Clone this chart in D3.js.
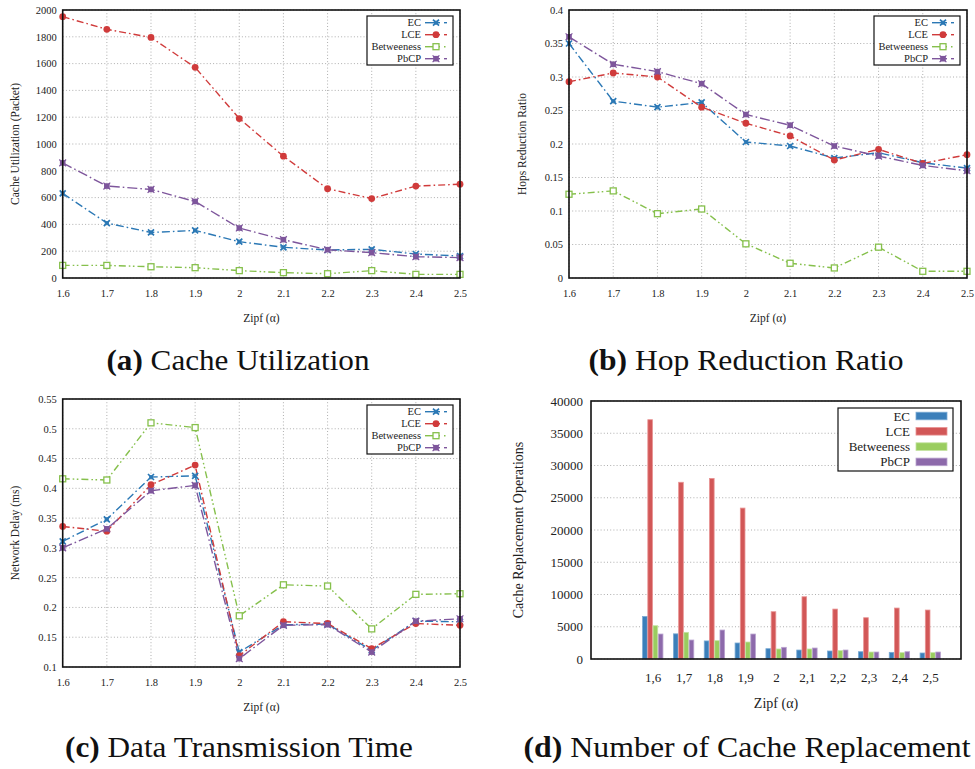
<!DOCTYPE html>
<html>
<head>
<meta charset="utf-8">
<script src="https://cdn.jsdelivr.net/npm/d3@7"></script>
<style>
  html, body { margin: 0; padding: 0; background: #fff; }
  svg { display: block; font-family: "Liberation Serif", "Times New Roman", serif; }
  svg text { font-family: "Liberation Serif", "Times New Roman", serif; }
</style>
</head>
<body>
<svg id="chart" width="975" height="769"></svg>
<script>
// ---------------- DATA ----------------
const zipf = [1.6, 1.7, 1.8, 1.9, 2.0, 2.1, 2.2, 2.3, 2.4, 2.5];
const zipfTickLabels = ["1.6", "1.7", "1.8", "1.9", "2", "2.1", "2.2", "2.3", "2.4", "2.5"];
const zipfBarLabels = ["1,6", "1,7", "1,8", "1,9", "2", "2,1", "2,2", "2,3", "2,4", "2,5"];
const seriesNames = ["EC", "LCE", "Betweeness", "PbCP"];

// (a) Cache Utilization (Packet)
const cacheEC   = [631, 410, 340, 355, 271, 229, 209, 214, 179, 164];
const cacheLCE  = [1950, 1856, 1795, 1572, 1190, 909, 666, 593, 686, 700];
const cacheBetw = [94, 94, 84, 77, 55, 40, 32, 55, 27, 27];
const cachePbCP = [859, 686, 661, 571, 373, 286, 211, 189, 159, 152];
const cacheTicks = [0, 200, 400, 600, 800, 1000, 1200, 1400, 1600, 1800, 2000];

// (b) Hops Reduction Ratio
const hopsEC   = [0.350, 0.264, 0.255, 0.262, 0.203, 0.197, 0.179, 0.187, 0.172, 0.164];
const hopsLCE  = [0.293, 0.306, 0.300, 0.255, 0.231, 0.212, 0.176, 0.192, 0.171, 0.184];
const hopsBetw = [0.125, 0.130, 0.096, 0.103, 0.051, 0.022, 0.015, 0.046, 0.010, 0.010];
const hopsPbCP = [0.360, 0.319, 0.308, 0.290, 0.244, 0.228, 0.197, 0.182, 0.168, 0.160];
const hopsTicks = [0, 0.05, 0.1, 0.15, 0.2, 0.25, 0.3, 0.35, 0.4];
const hopsTickLabels = ["0", "0.05", "0.1", "0.15", "0.2", "0.25", "0.3", "0.35", "0.4"];

// (c) Network Delay (ms)
const delayEC   = [0.311, 0.348, 0.419, 0.421, 0.125, 0.171, 0.172, 0.128, 0.177, 0.176];
const delayLCE  = [0.336, 0.328, 0.406, 0.439, 0.119, 0.176, 0.173, 0.131, 0.173, 0.170];
const delayBetw = [0.416, 0.414, 0.510, 0.502, 0.186, 0.238, 0.236, 0.164, 0.222, 0.223];
const delayPbCP = [0.300, 0.332, 0.396, 0.405, 0.114, 0.170, 0.171, 0.125, 0.177, 0.181];
const delayTicks = [0.1, 0.15, 0.2, 0.25, 0.3, 0.35, 0.4, 0.45, 0.5, 0.55];
const delayTickLabels = ["0.1", "0.15", "0.2", "0.25", "0.3", "0.35", "0.4", "0.45", "0.5", "0.55"];

// (d) Cache Replacement Operations
const replEC   = [6600, 3900, 2800, 2480, 1600, 1390, 1240, 1130, 1030, 930];
const replLCE  = [37100, 27400, 28000, 23400, 7330, 9650, 7740, 6400, 7900, 7590];
const replBetw = [5160, 4130, 2840, 2630, 1550, 1550, 1290, 1080, 980, 980];
const replPbCP = [3870, 2940, 4490, 3870, 1810, 1700, 1390, 1080, 1130, 1080];
const replTicks = [0, 5000, 10000, 15000, 20000, 25000, 30000, 35000, 40000];
const replTickLabels = ["0", "5000", "10000", "15000", "20000", "25000", "30000", "35000", "40000"];

const captions = ["Cache Utilization", "Hop Reduction Ratio", "Data Transmission Time", "Number of Cache Replacement"];
const captionTags = ["(a)", "(b)", "(c)", "(d)"];

// ---------------- STYLE ----------------
const FONT = "Liberation Serif";
const lineColors = ["#2b78b5", "#d03b3b", "#86c04c", "#7e569c"];
const barFills   = ["#3b7fba", "#d25757", "#9acd5f", "#8d6aab"];
const barStrokes = ["#7aaad4", "#e89393", "#c3e3a1", "#b9a3cf"];
const dashes = ["8,3,1.6,3", "7,3,1.6,3", "7,3,1.6,2.5,1.6,3", "10,3,1.6,3"];
const markerTypes = ["x", "circle", "opensquare", "square"];

const svg = d3.select("#chart");

function drawMarker(g, type, x, y, color) {
  if (type === "x") {
    g.append("path").attr("d", `M${x-3},${y-3}L${x+3},${y+3}M${x-3},${y+3}L${x+3},${y-3}`)
      .attr("stroke", color).attr("stroke-width", 1.7).attr("fill", "none");
    g.append("rect").attr("x", x-1.6).attr("y", y-1.6).attr("width", 3.2).attr("height", 3.2)
      .attr("fill", "none").attr("stroke", color).attr("stroke-width", 0.8);
  } else if (type === "circle") {
    g.append("circle").attr("cx", x).attr("cy", y).attr("r", 3.4).attr("fill", color);
  } else if (type === "opensquare") {
    g.append("rect").attr("x", x-3).attr("y", y-3).attr("width", 6).attr("height", 6)
      .attr("fill", "#fff").attr("stroke", color).attr("stroke-width", 1.3);
  } else {
    g.append("rect").attr("x", x-2.8).attr("y", y-2.8).attr("width", 5.6).attr("height", 5.6)
      .attr("fill", color);
    g.append("path").attr("d", `M${x-3.4},${y-3.4}L${x+3.4},${y+3.4}M${x-3.4},${y+3.4}L${x+3.4},${y-3.4}`)
      .attr("stroke", color).attr("stroke-width", 1.2);
  }
}

function drawGrid(g, x, y, xTicks, yTicks, box) {
  const grid = g.append("g").attr("stroke", "#9a9a9a").attr("stroke-width", 0.8)
    .attr("stroke-dasharray", "1,2.2");
  if (xTicks) {
    xTicks.forEach(v => grid.append("line").attr("x1", x(v)).attr("x2", x(v))
      .attr("y1", box.top).attr("y2", box.bottom));
  }
  yTicks.forEach(v => grid.append("line").attr("x1", box.left).attr("x2", box.right)
    .attr("y1", y(v)).attr("y2", y(v)));
}

function drawFrame(g, box) {
  g.append("rect").attr("x", box.left).attr("y", box.top)
    .attr("width", box.right - box.left).attr("height", box.bottom - box.top)
    .attr("fill", "none").attr("stroke", "#111").attr("stroke-width", 1.6);
}

function styleAxis(sel, size) {
  sel.attr("font-family", FONT).attr("font-size", size);
  sel.select(".domain").remove();
  sel.selectAll("text").attr("font-size", size).attr("fill", "#222").attr("font-family", FONT);
}

function lineChart(cfg) {
  const box = cfg.box;
  const g = svg.append("g");
  const x = d3.scaleLinear().domain([zipf[0], zipf[zipf.length - 1]]).range([box.left, box.right]);
  const y = d3.scaleLinear().domain(cfg.yDomain).range([box.bottom, box.top]);

  drawGrid(g, x, y, zipf, cfg.yTicks, box);

  const yAxis = d3.axisLeft(y).tickValues(cfg.yTicks).tickSize(0).tickPadding(6)
    .tickFormat((d, i) => cfg.yTickLabels[i]);
  styleAxis(g.append("g").attr("transform", `translate(${box.left},0)`).call(yAxis), cfg.tickFont);

  const xAxis = d3.axisBottom(x).tickValues(zipf).tickSize(0).tickPadding(12)
    .tickFormat((d, i) => zipfTickLabels[i]);
  styleAxis(g.append("g").attr("transform", `translate(0,${box.bottom})`).call(xAxis), cfg.tickFont);

  const line = d3.line().x((d, i) => x(zipf[i])).y(d => y(d));
  cfg.series.forEach((vals, s) => {
    g.append("path").datum(vals).attr("d", line).attr("fill", "none")
      .attr("stroke", lineColors[s]).attr("stroke-width", 1.4)
      .attr("stroke-dasharray", dashes[s]);
  });
  cfg.series.forEach((vals, s) => {
    const mg = g.append("g");
    vals.forEach((v, i) => drawMarker(mg, markerTypes[s], x(zipf[i]), y(v), lineColors[s]));
  });

  drawFrame(g, box);

  // legend
  const lx = box.right - 93, ly = box.top + 6, lw = 86, lh = 49;
  const lg = g.append("g");
  lg.append("rect").attr("x", lx).attr("y", ly).attr("width", lw).attr("height", lh)
    .attr("fill", "#fff").attr("stroke", "#111").attr("stroke-width", 1.2);
  seriesNames.forEach((name, s) => {
    const ry = ly + 6.7 + s * 12;
    lg.append("text").attr("x", lx + 54).attr("y", ry + 3.5).attr("text-anchor", "end")
      .attr("font-size", 10.5).attr("fill", "#222").text(name);
    lg.append("line").attr("x1", lx + 58).attr("x2", lx + 73).attr("y1", ry).attr("y2", ry)
      .attr("stroke", lineColors[s]).attr("stroke-width", 1.4);
    lg.append("line").attr("x1", lx + 77).attr("x2", lx + (s === 2 ? 78.5 : 80)).attr("y1", ry).attr("y2", ry)
      .attr("stroke", lineColors[s]).attr("stroke-width", 1.4);
    drawMarker(lg, markerTypes[s], lx + 69, ry, lineColors[s]);
  });

  g.append("text").attr("x", (box.left + box.right) / 2).attr("y", box.bottom + 44)
    .attr("text-anchor", "middle").attr("font-size", 11.5).attr("fill", "#222").text("Zipf (α)");
  g.append("text").attr("transform", `translate(${cfg.yTitleX},${(box.top + box.bottom) / 2}) rotate(-90)`)
    .attr("text-anchor", "middle").attr("font-size", 11.5).attr("fill", "#222").text(cfg.yTitle);
}

function barChart(cfg) {
  const box = cfg.box;
  const g = svg.append("g");
  const nSlots = zipf.length + 2;
  const x = d3.scaleLinear().domain([0, nSlots]).range([box.left, box.right]);
  const y = d3.scaleLinear().domain([0, 40000]).range([box.bottom, box.top]);
  const step = x(1) - x(0);
  const inner = d3.scaleBand().domain(seriesNames).range([-0.34 * step, 0.34 * step]).padding(0);

  drawGrid(g, x, y, null, replTicks, box);

  const yAxis = d3.axisLeft(y).tickValues(replTicks).tickSize(0).tickPadding(8)
    .tickFormat((d, i) => replTickLabels[i]);
  styleAxis(g.append("g").attr("transform", `translate(${box.left},0)`).call(yAxis), 13);

  const xPos = zipf.map((d, i) => i + 2);
  const xAxis = d3.axisBottom(x).tickValues(xPos).tickSize(0).tickPadding(14)
    .tickFormat((d, i) => zipfBarLabels[i]);
  styleAxis(g.append("g").attr("transform", `translate(0,${box.bottom})`).call(xAxis), 13);

  cfg.series.forEach((vals, s) => {
    g.append("g").selectAll("rect").data(vals).join("rect")
      .attr("x", (d, i) => x(xPos[i]) + inner(seriesNames[s]) + 0.4)
      .attr("width", inner.bandwidth() - 0.6)
      .attr("y", d => y(d))
      .attr("height", d => box.bottom - y(d))
      .attr("fill", barFills[s]).attr("stroke", barStrokes[s]).attr("stroke-width", 0.8);
  });

  drawFrame(g, box);

  const lx = box.right - 123, ly = box.top + 7, lw = 115, lh = 63;
  const lg = g.append("g");
  lg.append("rect").attr("x", lx).attr("y", ly).attr("width", lw).attr("height", lh)
    .attr("fill", "#fff").attr("stroke", "#111").attr("stroke-width", 1.2);
  seriesNames.forEach((name, s) => {
    const ry = ly + 8 + s * 15.3;
    lg.append("text").attr("x", lx + 72).attr("y", ry + 4.5).attr("text-anchor", "end")
      .attr("font-size", 13).attr("fill", "#222").text(name);
    lg.append("rect").attr("x", lx + 78).attr("y", ry - 3.8).attr("width", 31).attr("height", 7.6)
      .attr("fill", barFills[s]).attr("stroke", barStrokes[s]).attr("stroke-width", 0.8);
  });

  g.append("text").attr("x", (box.left + box.right) / 2).attr("y", box.bottom + 49)
    .attr("text-anchor", "middle").attr("font-size", 14).attr("fill", "#222").text("Zipf (α)");
  g.append("text").attr("transform", `translate(${cfg.yTitleX},${(box.top + box.bottom) / 2}) rotate(-90)`)
    .attr("text-anchor", "middle").attr("font-size", 14).attr("fill", "#222").text(cfg.yTitle);
}

lineChart({
  box: {left: 62.7, right: 460, top: 10, bottom: 278},
  yDomain: [0, 2000], yTicks: cacheTicks, yTickLabels: cacheTicks.map(String),
  series: [cacheEC, cacheLCE, cacheBetw, cachePbCP],
  yTitle: "Cache Utilization (Packet)", yTitleX: 19, tickFont: 10.5
});
lineChart({
  box: {left: 569, right: 967, top: 10, bottom: 278},
  yDomain: [0, 0.4], yTicks: hopsTicks, yTickLabels: hopsTickLabels,
  series: [hopsEC, hopsLCE, hopsBetw, hopsPbCP],
  yTitle: "Hops Reduction Ratio", yTitleX: 526, tickFont: 10.5
});
lineChart({
  box: {left: 62.7, right: 460, top: 399, bottom: 667},
  yDomain: [0.1, 0.55], yTicks: delayTicks, yTickLabels: delayTickLabels,
  series: [delayEC, delayLCE, delayBetw, delayPbCP],
  yTitle: "Network Delay (ms)", yTitleX: 19, tickFont: 10.5
});
barChart({
  box: {left: 591, right: 961, top: 401, bottom: 659},
  series: [replEC, replLCE, replBetw, replPbCP],
  yTitle: "Cache Replacement Operations", yTitleX: 523
});

const capPos = [
  {x: 238, y: 370, w: 263},
  {x: 746, y: 370, w: 315},
  {x: 239, y: 757, w: 348},
  {x: 747, y: 757, w: 447}
];
captions.forEach((c, i) => {
  const t = svg.append("text").attr("x", capPos[i].x).attr("y", capPos[i].y)
    .attr("text-anchor", "middle").attr("font-size", 29).attr("fill", "#111")
    .attr("textLength", capPos[i].w).attr("lengthAdjust", "spacingAndGlyphs");
  t.append("tspan").attr("font-weight", "bold").text(captionTags[i]);
  t.append("tspan").text(" " + c);
});
</script>
</body>
</html>
